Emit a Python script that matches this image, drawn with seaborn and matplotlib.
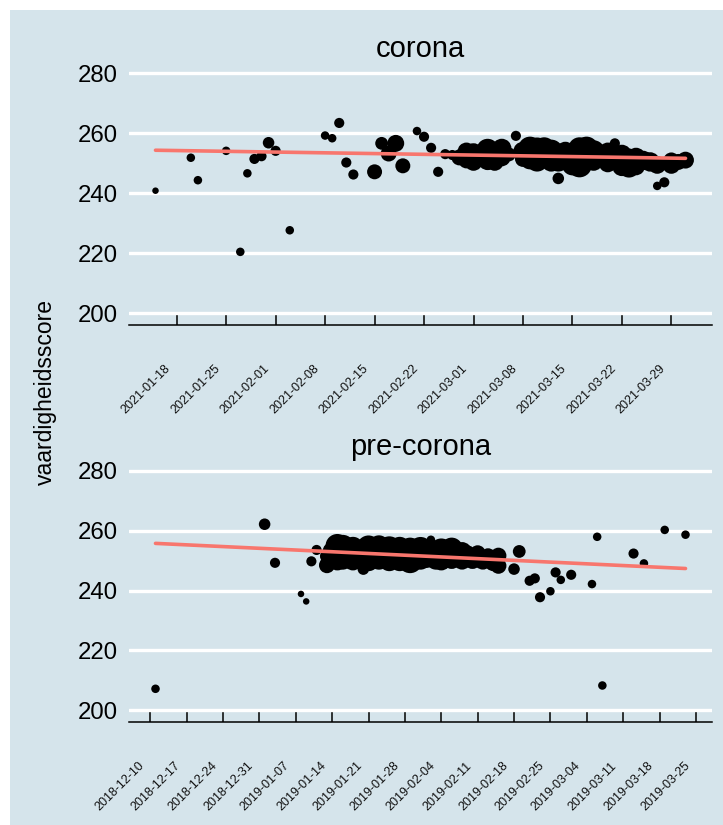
import matplotlib
matplotlib.use("Agg")
import matplotlib.pyplot as plt
import matplotlib.dates as mdates
import matplotlib.transforms as mtransforms
from matplotlib.patches import Rectangle
import numpy as np
import pandas as pd
import seaborn as sns

# ---------------- data ----------------
corona_dates = ["2021-01-15", "2021-01-20", "2021-01-21", "2021-01-25", "2021-01-27", "2021-01-28",
                "2021-01-29", "2021-01-30", "2021-01-31", "2021-02-01", "2021-02-03", "2021-02-08",
                "2021-02-09", "2021-02-10", "2021-02-11", "2021-02-12", "2021-02-15", "2021-02-16",
                "2021-02-17", "2021-02-18", "2021-02-19", "2021-02-21", "2021-02-22", "2021-02-23",
                "2021-02-24", "2021-02-25", "2021-02-26", "2021-02-27",
                "2021-02-28", "2021-02-28", "2021-03-01", "2021-03-01", "2021-03-02",
                "2021-03-03", "2021-03-03", "2021-03-04", "2021-03-04", "2021-03-05", "2021-03-05",
                "2021-03-06", "2021-03-07", "2021-03-08", "2021-03-08", "2021-03-09", "2021-03-09",
                "2021-03-10", "2021-03-10", "2021-03-11", "2021-03-11", "2021-03-12", "2021-03-12",
                "2021-03-13", "2021-03-13", "2021-03-14", "2021-03-15", "2021-03-15",
                "2021-03-16", "2021-03-16", "2021-03-17", "2021-03-17", "2021-03-18", "2021-03-18",
                "2021-03-19", "2021-03-20", "2021-03-20", "2021-03-21", "2021-03-21",
                "2021-03-22", "2021-03-22", "2021-03-23", "2021-03-23", "2021-03-24", "2021-03-24",
                "2021-03-25", "2021-03-26", "2021-03-27", "2021-03-27", "2021-03-28",
                "2021-03-29", "2021-03-29", "2021-03-30", "2021-03-31"]
corona_scores = [240.9, 251.9, 244.4, 254.2, 220.5, 246.7,
                 251.5, 252.4, 256.9, 254.2, 227.7, 259.3,
                 258.4, 263.5, 250.3, 246.3, 247.2, 256.7,
                 253.3, 256.7, 249.2, 260.8, 258.9, 255.2,
                 247.2, 253.1, 252.8, 252.0,
                 254.0, 251.0, 253.5, 250.5, 252.0,
                 254.5, 251.0, 253.0, 250.5, 255.0, 252.0,
                 253.0, 259.2, 254.0, 251.5, 255.0, 251.5,
                 254.5, 251.0, 255.0, 252.0, 254.0, 250.5,
                 245.0, 251.0, 254.0, 253.0, 249.5,
                 255.0, 249.5, 255.0, 251.5, 254.0, 250.5,
                 252.5, 254.0, 250.0, 256.7, 252.0,
                 253.0, 249.0, 249.0, 252.0, 252.0, 249.0,
                 251.0, 250.5, 242.5, 249.5, 243.7,
                 249.5, 251.0, 250.5, 251.1]
corona_n = [1, 2, 2, 2, 2, 2,
            3, 3, 4, 3, 2, 2,
            2, 3, 3, 3, 7, 5,
            8, 9, 7, 2, 3, 3,
            3, 3, 3, 8,
            10, 8, 12, 10, 10,
            16, 12, 16, 10, 12, 10,
            6, 3, 12, 8, 18, 14,
            20, 16, 16, 14, 18, 12,
            4, 16, 12, 18, 14,
            16, 20, 18, 12, 16, 10,
            12, 10, 10, 3, 10,
            12, 12, 16, 10, 12, 10,
            12, 12, 2, 10, 3,
            10, 8, 8, 9]
corona_trend = [254.4, 251.7]

pre_dates = ["2018-12-11", "2019-01-01", "2019-01-03", "2019-01-08", "2019-01-09", "2019-01-10",
             "2019-01-11", "2019-01-13", "2019-01-13", "2019-01-14", "2019-01-15", "2019-01-15",
             "2019-01-16", "2019-01-16", "2019-01-17", "2019-01-18", "2019-01-18", "2019-01-19",
             "2019-01-20", "2019-01-20", "2019-01-21", "2019-01-21", "2019-01-22", "2019-01-23",
             "2019-01-23", "2019-01-24", "2019-01-25", "2019-01-25", "2019-01-26", "2019-01-27",
             "2019-01-27", "2019-01-28", "2019-01-29", "2019-01-29", "2019-01-30", "2019-01-31",
             "2019-01-31", "2019-02-01", "2019-02-02", "2019-02-02", "2019-02-03", "2019-02-04",
             "2019-02-04", "2019-02-05", "2019-02-06", "2019-02-06", "2019-02-07", "2019-02-08",
             "2019-02-08", "2019-02-09", "2019-02-10", "2019-02-11", "2019-02-12", "2019-02-13",
             "2019-02-14", "2019-02-15", "2019-02-15", "2019-02-18", "2019-02-19", "2019-02-21",
             "2019-02-22", "2019-02-23", "2019-02-25", "2019-02-26", "2019-02-27", "2019-03-01",
             "2019-03-05", "2019-03-06", "2019-03-07", "2019-03-13", "2019-03-15", "2019-03-19",
             "2019-03-23"]
pre_scores = [207.2, 262.2, 249.3, 238.9, 236.4, 249.8,
              253.6, 248.5, 251.5, 253.0, 255.0, 250.0,
              254.5, 250.5, 252.0, 254.5, 250.0, 252.0,
              247.2, 251.0, 254.5, 250.0, 253.0, 255.0,
              250.5, 252.0, 254.0, 250.0, 252.5, 254.5,
              250.0, 252.5, 254.0, 250.0, 253.0, 254.0,
              250.5, 251.5, 257.0, 253.5, 250.5, 253.5,
              250.0, 251.5, 254.0, 250.5, 252.0, 253.0,
              250.0, 252.5, 250.5, 252.5, 250.0, 251.5,
              249.5, 248.3, 251.7, 247.2, 253.1, 243.3,
              244.1, 237.8, 239.8, 246.1, 243.6, 245.3,
              242.2, 258.0, 208.3, 252.4, 249.1, 260.3,
              258.7]
pre_n = [2, 4, 3, 1, 1, 3,
         3, 8, 6, 12, 18, 12,
         20, 14, 14, 14, 12, 18,
         4, 14, 18, 14, 20, 14,
         14, 18, 20, 14, 14, 14,
         14, 18, 16, 20, 14, 18,
         14, 18, 2, 14, 14, 18,
         12, 14, 16, 12, 12, 12,
         10, 8, 12, 8, 10, 8,
         10, 8, 8, 4, 5, 3,
         3, 3, 2, 3, 2, 3,
         2, 2, 2, 3, 2, 2,
         2]
pre_trend = [255.8, 247.4]

panel_titles = ["corona", "pre-corona"]
y_ticks = [200, 220, 240, 260, 280]
y_label = "vaardigheidsscore"

# ---------------- style ----------------
BG = "#d5e4eb"
RED = "#F8766D"
sns.set_theme(style="white")
plt.rcParams["font.family"] = ["Liberation Sans", "DejaVu Sans"]

W, H = 723, 825
fig = plt.figure(figsize=(W / 100, H / 100), dpi=100, facecolor="white")
fig.patches.append(Rectangle((10 / W, 0), 1 - 10 / W, 1 - 10 / H, transform=fig.transFigure,
                             facecolor=BG, edgecolor="none", zorder=-10))

left = 129 / W
width = (712 - 129) / W
ax_top = fig.add_axes([left, 1 - 325.3 / H, width, (325.3 - 61.5) / H])
ax_bot = fig.add_axes([left, 1 - 722.3 / H, width, (722.3 - 459) / H])

panels = [
    (ax_top, corona_dates, corona_scores, corona_n, corona_trend, panel_titles[0]),
    (ax_bot, pre_dates, pre_scores, pre_n, pre_trend, panel_titles[1]),
]

for ax, dates, scores, ns, trend, title in panels:
    df = pd.DataFrame({"datum": pd.to_datetime(dates), "score": scores, "n": ns})
    ax.set_facecolor(BG)
    sns.scatterplot(data=df, x="datum", y="score", size="n", sizes=(22, 320), size_norm=(1, 20),
                    color="black", edgecolor="none", linewidth=0, legend=False, ax=ax, zorder=3)
    tdf = pd.DataFrame({"datum": [df["datum"].min(), df["datum"].max()], "score": trend})
    sns.lineplot(data=tdf, x="datum", y="score", color=RED, linewidth=2.6, ax=ax, zorder=4)

    dmin = mdates.date2num(df["datum"].min())
    dmax = mdates.date2num(df["datum"].max())
    ext = (dmax - dmin) * 0.05
    ax.set_xlim(dmin - ext, dmax + ext)
    ax.set_ylim(196, 284)
    ax.set_yticks(y_ticks)
    ax.yaxis.grid(True, color="white", linewidth=2.4, zorder=0)
    ax.xaxis.grid(False)
    ax.set_axisbelow(True)
    for s in ["top", "right", "left"]:
        ax.spines[s].set_visible(False)
    ax.spines["bottom"].set_color("black")
    ax.spines["bottom"].set_linewidth(1.1)
    ax.spines["bottom"].set_zorder(5)

    ax.xaxis.set_major_locator(mdates.WeekdayLocator(byweekday=mdates.MO))
    ax.xaxis.set_major_formatter(mdates.DateFormatter("%Y-%m-%d"))
    ax.tick_params(axis="x", direction="in", length=7, width=1.1, color="black",
                   bottom=True, pad=30, labelsize=9, labelcolor="#111111")
    ax.tick_params(axis="y", length=0, pad=8, labelsize=17.3, labelcolor="black")
    offset = mtransforms.ScaledTranslation(-8 / 100, 0, fig.dpi_scale_trans)
    for lab in ax.get_xticklabels():
        lab.set_rotation(45)
        lab.set_rotation_mode("anchor")
        lab.set_ha("right")
        lab.set_va("center")
        lab.set_transform(lab.get_transform() + offset)
    ax.set_xlabel("")
    ax.set_ylabel("")
    ax.set_title(title, fontsize=21, pad=3, color="black")

fig.text(45 / W, 1 - 392 / H, y_label, rotation=90, ha="center", va="center", fontsize=16.5, color="black")

fig.savefig("out.png", dpi=100, facecolor="white")
